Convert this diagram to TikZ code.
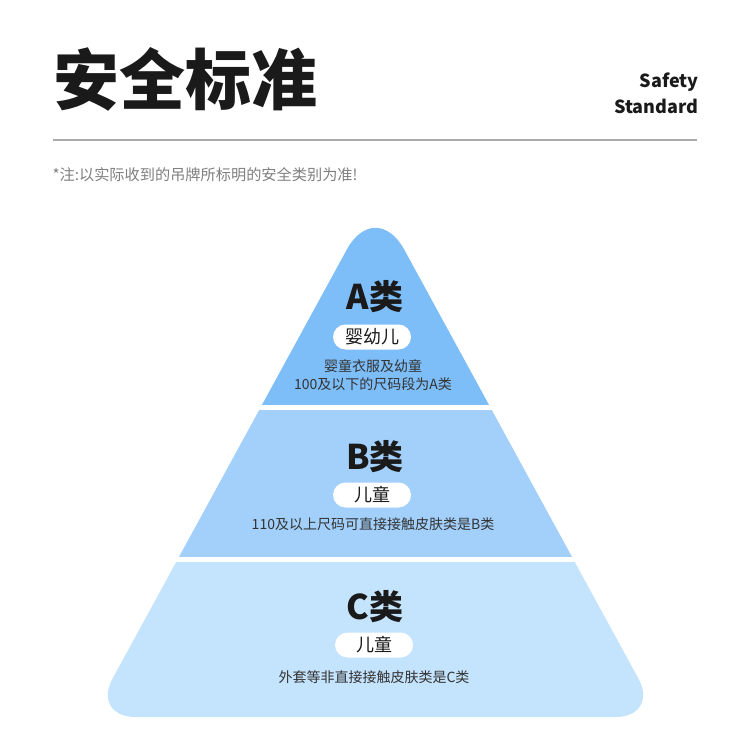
\documentclass[tikz,border=0pt]{standalone}
\usepackage{fontspec}
\setmainfont{Noto Sans CJK SC}
\usetikzlibrary{positioning}
\definecolor{capaA}{HTML}{7DBDF8}
\definecolor{capaB}{HTML}{A2D0FB}
\definecolor{capaC}{HTML}{C4E3FD}
\definecolor{linea}{HTML}{ABABAB}
\definecolor{nota}{HTML}{808080}
\definecolor{tinta}{HTML}{1A1A1A}
\begin{document}
\begin{tikzpicture}[x=1pt,y=-1pt,
    clase/.style={font=\bfseries\fontsize{34}{34}\selectfont, text=tinta},
    etiqueta/.style={fill=white, rounded corners=12.5pt, minimum width=78pt,
      minimum height=25pt, inner sep=0pt, font=\fontsize{18}{18}\selectfont, text=tinta},
    texto/.style={font=\fontsize{14}{18}\selectfont, text=black!80, align=center}]
    \useasboundingbox[fill=white] (0,0) rectangle (750,738);

    % Encabezado
    \node[anchor=west, font=\bfseries\fontsize{66}{66}\selectfont, text=tinta] (titulo) at (50,79) {安全标准};
    \node[anchor=east, align=right, font=\bfseries\fontsize{18}{26}\selectfont, text=tinta] (ingles) at (702,93) {Safety\\Standard};
    \draw[line width=2pt, linea] (53,140) -- (697,140);
    \node[anchor=west, font=\fontsize{15.2}{15.2}\selectfont, text=nota] (aviso) at (49,175) {*注:以实际收到的吊牌所标明的安全类别为准!};

    % Piramide en tres capas
    \begin{scope}
        \clip[rounded corners=60pt] (375.5,197) -- (999.6,1340) -- (-248.6,1340) -- cycle;
        \clip[rounded corners=44pt] (375.5,197) -- (659.4,717) -- (91.6,717) -- cycle;
        \fill[capaA] (0,150) rectangle (750,405);
        \fill[capaB] (0,410) rectangle (750,557);
        \fill[capaC] (0,562) rectangle (750,738);
    \end{scope}

    % Capa A
    \node[clase] (claseA) at (375,297) {A类};
    \node[etiqueta] (grupoA) at (372,337) {婴幼儿};
    \node[texto] (descA) at (373,375) {婴童衣服及幼童\\100及以下的尺码段为A类};

    % Capa B
    \node[clase] (claseB) at (375,457) {B类};
    \node[etiqueta] (grupoB) at (372,495) {儿童};
    \node[texto] (descB) at (373,524) {110及以上尺码可直接接触皮肤类是B类};

    % Capa C
    \node[clase] (claseC) at (375,607) {C类};
    \node[etiqueta] (grupoC) at (374,645) {儿童};
    \node[texto] (descC) at (374,677) {外套等非直接接触皮肤类是C类};
\end{tikzpicture}
\end{document}
